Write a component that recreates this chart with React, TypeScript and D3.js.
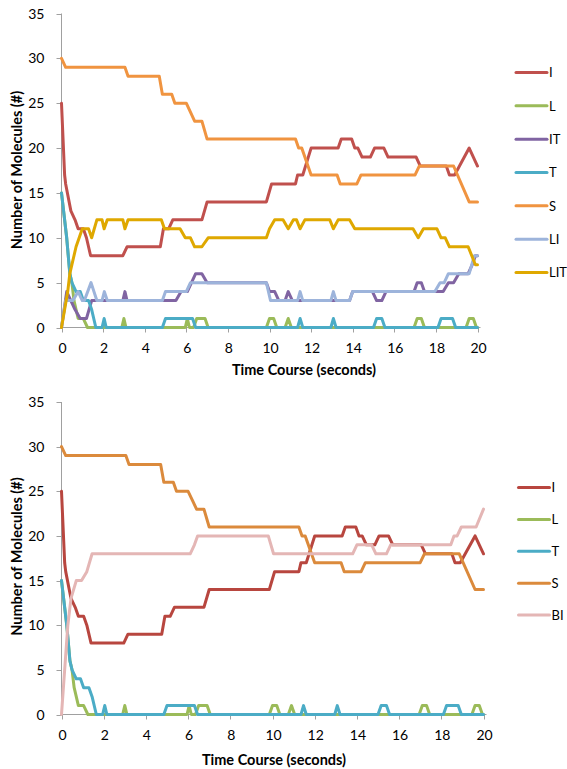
import React from "react";
import * as d3 from "d3";

type Pt = [number, number];

const TIME_TICKS = [0, 2, 4, 6, 8, 10, 12, 14, 16, 18, 20];
const COUNT_TICKS = [0, 5, 10, 15, 20, 25, 30, 35];

// [time (s), molecules]
const I_SERIES: Pt[] = [
  [0, 25], [0.15, 17], [0.2, 16], [0.45, 13], [0.65, 12], [0.8, 11], [1.05, 11], [1.2, 10], [1.4, 8],
  [2.95, 8], [3.15, 9], [4.75, 9], [4.9, 11], [5.15, 11], [5.35, 12], [6.75, 12], [7.0, 14], [9.85, 14],
  [10.1, 16], [11.25, 16], [11.35, 17], [11.6, 17], [12.0, 20], [13.3, 20], [13.45, 21], [13.95, 21],
  [14.1, 20], [14.25, 20], [14.45, 19], [14.85, 19], [15.05, 20], [15.5, 20], [15.7, 19], [17.05, 19],
  [17.25, 18], [18.5, 18], [18.65, 17], [18.9, 17], [19.6, 20], [20, 18],
];
const L_SERIES: Pt[] = [
  [0, 15], [0.25, 10], [0.4, 6], [0.5, 5], [0.6, 3], [0.8, 1], [1.05, 1], [1.25, 0], [2.9, 0], [3.0, 1],
  [3.1, 0], [5.95, 0], [6.05, 1], [6.15, 0], [6.35, 0], [6.5, 1], [6.9, 1], [7.05, 0], [9.85, 0], [10.0, 1],
  [10.2, 1], [10.35, 0], [10.75, 0], [10.9, 1], [11.05, 0], [16.95, 0], [17.1, 1], [17.3, 1], [17.45, 0],
  [19.45, 0], [19.6, 1], [19.8, 1], [19.95, 0], [20, 0],
];
const IT_SERIES: Pt[] = [
  [0, 0], [0.25, 4], [0.45, 3], [0.65, 2], [0.9, 1], [1.2, 1], [1.45, 3], [2.95, 3], [3.05, 4], [3.15, 3],
  [5.5, 3], [5.75, 4], [6.05, 4], [6.25, 5], [6.45, 6], [6.75, 6], [7.0, 5], [9.85, 5], [10.0, 4], [10.25, 4],
  [10.45, 3], [10.75, 3], [10.9, 4], [11.1, 3], [13.85, 3], [14.0, 4], [14.95, 4], [15.15, 3], [15.4, 3],
  [15.6, 4], [16.95, 4], [17.1, 5], [17.3, 5], [17.45, 4], [18.35, 4], [18.6, 5], [18.85, 5], [19.1, 6],
  [19.55, 6], [19.75, 7], [19.9, 8], [20, 8],
];
const T_SERIES: Pt[] = [
  [0, 15], [0.25, 10], [0.4, 6], [0.5, 5], [0.7, 4], [0.9, 4], [1.05, 3], [1.3, 3], [1.45, 2], [1.65, 0],
  [1.95, 0], [2.05, 1], [2.15, 0], [4.85, 0], [5.0, 1], [6.3, 1], [6.45, 0], [11.35, 0], [11.47, 1],
  [11.6, 0], [12.95, 0], [13.07, 1], [13.2, 0], [15.0, 0], [15.15, 1], [15.4, 1], [15.55, 0], [18.1, 0],
  [18.25, 1], [18.8, 1], [18.95, 0], [20, 0],
];
const S_SERIES: Pt[] = [
  [0, 30], [0.2, 29], [3.05, 29], [3.2, 28], [4.7, 28], [4.85, 26], [5.3, 26], [5.45, 25], [6.0, 25],
  [6.2, 24], [6.4, 23], [6.75, 23], [7.0, 21], [11.25, 21], [11.4, 20], [11.55, 20], [12.0, 17], [13.25, 17],
  [13.4, 16], [14.2, 16], [14.4, 17], [17.0, 17], [17.2, 18], [18.85, 18], [19.6, 14], [20, 14],
];
const LI_SERIES: Pt[] = [
  [0, 0], [0.2, 3], [0.55, 3], [0.8, 4], [1.0, 3], [1.1, 3], [1.42, 5], [1.7, 3], [1.95, 3], [2.06, 4],
  [2.2, 3], [4.85, 3], [5.0, 4], [6.0, 4], [6.2, 5], [9.85, 5], [10.05, 3], [11.35, 3], [11.47, 4],
  [11.6, 3], [12.95, 3], [13.07, 4], [13.2, 3], [13.85, 3], [14.0, 4], [17.95, 4], [18.2, 5], [18.4, 5],
  [18.6, 6], [19.6, 6], [19.85, 8], [20, 8],
];
const LIT_SERIES: Pt[] = [
  [0, 0], [0.3, 4], [0.4, 6], [0.5, 7], [0.6, 8], [0.7, 9], [0.85, 10], [1.0, 11], [1.3, 11], [1.45, 10],
  [1.7, 12], [1.95, 12], [2.05, 11], [2.2, 12], [2.95, 12], [3.05, 11], [3.2, 12], [4.8, 12], [4.95, 11],
  [5.7, 11], [5.95, 10], [6.2, 10], [6.4, 9], [6.75, 9], [7.05, 10], [9.85, 10], [10.0, 11], [10.25, 12],
  [10.65, 12], [10.9, 11], [11.15, 12], [11.3, 12], [11.47, 11], [11.7, 12], [12.9, 12], [13.07, 11],
  [13.3, 12], [13.85, 12], [14.1, 11], [16.9, 11], [17.15, 10], [17.4, 11], [18.05, 11], [18.25, 10],
  [18.45, 10], [18.65, 9], [19.55, 9], [19.9, 7], [20, 7],
];
const BI_SERIES: Pt[] = [
  [0, 0], [0.3, 10], [0.45, 13], [0.7, 15], [0.95, 15], [1.2, 16], [1.45, 18], [6.1, 18], [6.3, 19],
  [6.45, 20], [9.8, 20], [10.05, 18], [13.8, 18], [14.0, 19], [14.7, 19], [14.9, 18], [15.4, 18],
  [15.6, 19], [18.45, 19], [18.6, 20], [18.75, 20], [18.95, 21], [19.65, 21], [20, 23],
];

const TOP_NAMES = ["I", "L", "IT", "T", "S", "LI", "LIT"];
const BOTTOM_NAMES = ["I", "L", "T", "S", "BI"];

const FONT = "Lato, 'Open Sans', sans-serif";
const AXIS = "#A0A0A0";

type Series = { name: string; color: string; data: Pt[] };

type PanelSpec = {
  series: Series[];
  x0: number;
  x1: number;
  yBottom: number;
  yTop: number;
  legendLineX: number;
  legendY0: number;
  legendStep: number;
  xTitleX: number;
  xTitleY: number;
  yTitleY: number;
  tickLabelY: number;
};

const TOP_COLORS = ["#C0504D", "#9BBB59", "#8064A2", "#4BACC6", "#F09440", "#9DB4DB", "#DFA800"];
const BOTTOM_COLORS = ["#B8463F", "#9BBB59", "#4BACC6", "#DB8A3C", "#E4B6B5"];

const topPanel: PanelSpec = {
  series: [I_SERIES, L_SERIES, IT_SERIES, T_SERIES, S_SERIES, LI_SERIES, LIT_SERIES].map((d, i) => ({
    name: TOP_NAMES[i],
    color: TOP_COLORS[i],
    data: d,
  })),
  x0: 61.5,
  x1: 477.5,
  yBottom: 327.5,
  yTop: 13.5,
  legendLineX: 516,
  legendY0: 72.5,
  legendStep: 33.33,
  xTitleX: 304,
  xTitleY: 375,
  yTitleY: 170,
  tickLabelY: 353,
};

const bottomPanel: PanelSpec = {
  series: [I_SERIES, L_SERIES, T_SERIES, S_SERIES, BI_SERIES].map((d, i) => ({
    name: BOTTOM_NAMES[i],
    color: BOTTOM_COLORS[i],
    data: d,
  })),
  x0: 61.5,
  x1: 483.5,
  yBottom: 714.5,
  yTop: 402,
  legendLineX: 518.5,
  legendY0: 487.5,
  legendStep: 31.9,
  xTitleX: 274,
  xTitleY: 765,
  yTitleY: 556.5,
  tickLabelY: 740,
};

function Panel({ spec }: { spec: PanelSpec }) {
  const x = d3.scaleLinear().domain([0, 20]).range([spec.x0, spec.x1]);
  const y = d3.scaleLinear().domain([0, 35]).range([spec.yBottom, spec.yTop]);
  const line = d3
    .line<Pt>()
    .x((d) => x(d[0]))
    .y((d) => y(d[1]));
  return (
    <g>
      <line x1={spec.x0} x2={spec.x0} y1={y(0)} y2={y(35)} stroke={AXIS} strokeWidth={1} />
      {COUNT_TICKS.map((v) => (
        <g key={"y" + v}>
          <line x1={spec.x0 - 5} x2={spec.x0} y1={Math.round(y(v)) + 0.5} y2={Math.round(y(v)) + 0.5} stroke={AXIS} />
          <text
            x={spec.x0 - 17}
            y={y(v)}
            dy="0.36em"
            textAnchor="end"
            fontFamily={FONT}
            fontSize={14}
            fill="#000"
          >
            {v}
          </text>
        </g>
      ))}
      <line x1={spec.x0} x2={spec.x1 + 3} y1={y(0)} y2={y(0)} stroke={AXIS} />
      {TIME_TICKS.map((t) => (
        <g key={"x" + t}>
          <line x1={Math.round(x(t)) + 0.5} x2={Math.round(x(t)) + 0.5} y1={y(0)} y2={y(0) + 5} stroke={AXIS} />
          <text x={x(t) + 1} y={spec.tickLabelY} textAnchor="middle" fontFamily={FONT} fontSize={14} fill="#000">
            {t}
          </text>
        </g>
      ))}
      {spec.series.map((s) => (
        <path
          key={s.name}
          d={line(s.data) || ""}
          fill="none"
          stroke={s.color}
          strokeWidth={3}
          strokeLinejoin="round"
          strokeLinecap="round"
        />
      ))}
      <text
        x={spec.xTitleX}
        y={spec.xTitleY}
        textAnchor="middle"
        fontFamily={FONT}
        fontWeight="bold"
        fontSize={14.5}
        fill="#000"
      >
        Time Course (seconds)
      </text>
      <text
        transform={`translate(21.5, ${spec.yTitleY}) rotate(-90)`}
        textAnchor="middle"
        fontFamily={FONT}
        fontWeight="bold"
        fontSize={14.5}
        fill="#000"
      >
        Number of Molecules (#)
      </text>
      {spec.series.map((s, i) => {
        const ly = spec.legendY0 + i * spec.legendStep;
        return (
          <g key={"lg" + s.name}>
            <line
              x1={spec.legendLineX}
              x2={spec.legendLineX + 31}
              y1={ly}
              y2={ly}
              stroke={s.color}
              strokeWidth={3}
              strokeLinecap="round"
            />
            <text x={spec.legendLineX + 33} y={ly} dy="0.36em" fontFamily={FONT} fontSize={13} fill="#000">
              {s.name}
            </text>
          </g>
        );
      })}
    </g>
  );
}

export default function App() {
  return (
    <svg
      width={567}
      height={769}
      viewBox="0 0 567 769"
      style={{ position: "absolute", left: 0, top: 0, background: "#fff" }}
    >
      <rect x={0} y={0} width={567} height={769} fill="#fff" />
      <Panel spec={topPanel} />
      <Panel spec={bottomPanel} />
    </svg>
  );
}
